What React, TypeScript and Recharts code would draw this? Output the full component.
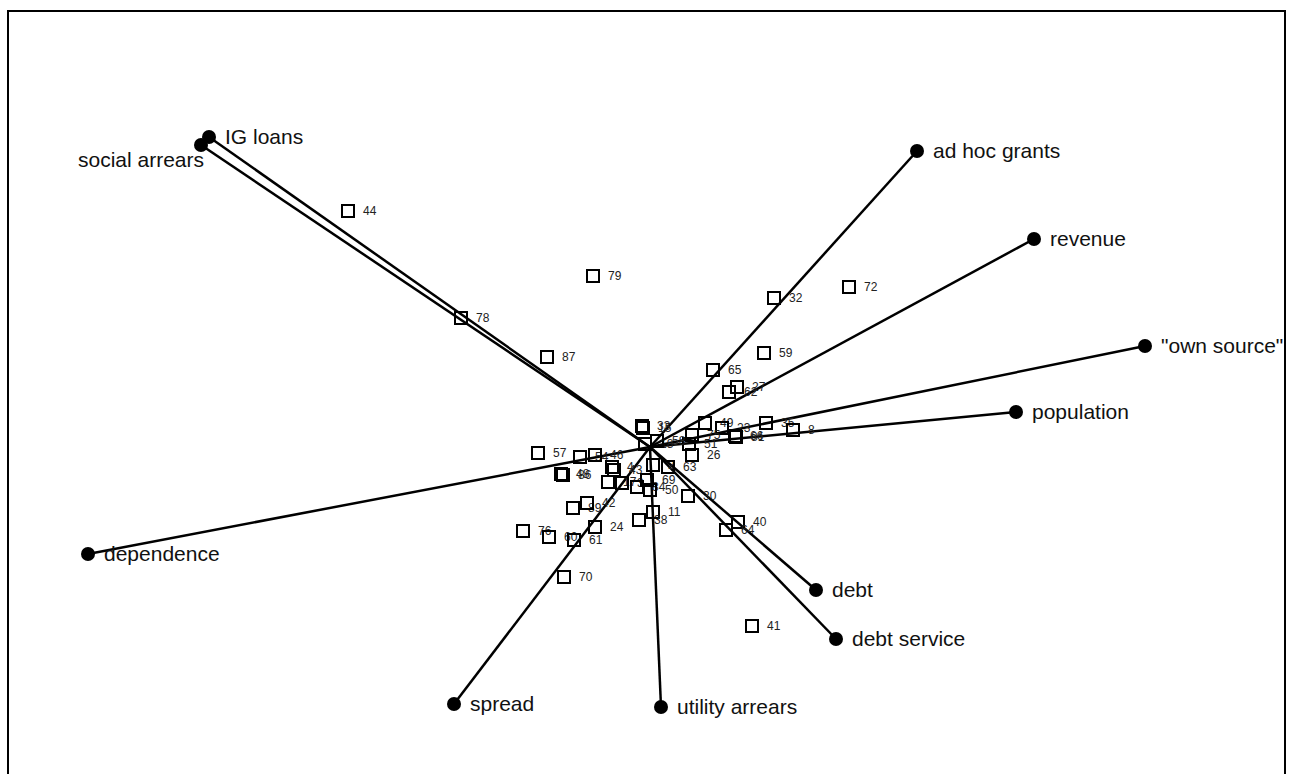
import { ReferenceLine, Scatter, ScatterChart, XAxis, YAxis } from "recharts";

// variable loadings (arrow tips)
const varNames = [
  "IG loans",
  "social arrears",
  "ad hoc grants",
  "revenue",
  "\"own source\"",
  "population",
  "dependence",
  "debt",
  "debt service",
  "spread",
  "utility arrears",
];
const varX = [-4.41, -4.49, 2.67, 3.84, 4.95, 3.66, -5.62, 1.66, 1.86, -1.96, 0.11];
const varY = [3.1, 3.02, 2.96, 2.08, 1.01, 0.35, -1.07, -1.43, -1.92, -2.57, -2.6];

// observation scores
const obsLabels = [
  "44", "79", "78", "87", "32", "72", "59", "65", "27", "62",
  "49", "23", "66", "81", "35", "8", "75", "51", "26", "33",
  "15", "18", "58", "57", "54", "46", "48", "86", "4", "43",
  "17", "3", "84", "69", "50", "2", "63", "30", "89", "42",
  "11", "38", "24", "76", "60", "61", "70", "40", "64", "41",
];
const obsX = [
  -3.02, -0.57, -1.89, -1.03, 1.24, 1.99, 1.14, 0.63, 0.87, 0.79,
  0.55, 0.72, 0.85, 0.86, 1.16, 1.43, 0.42, 0.39, 0.42, -0.08,
  -0.07, -0.05, 0.07, -1.12, -0.7, -0.55, -0.89, -0.87, -0.38, -0.36,
  -0.42, -0.28, -0.13, -0.03, 0.0, 0.03, 0.18, 0.38, -0.77, -0.63,
  0.03, -0.11, -0.55, -1.27, -1.01, -0.76, -0.86, 0.88, 0.76, 1.02,
];
const obsY = [
  2.36, 1.71, 1.29, 0.9, 1.49, 1.6, 0.94, 0.77, 0.6, 0.55,
  0.24, 0.19, 0.11, 0.1, 0.24, 0.17, 0.12, 0.03, -0.08, 0.21,
  0.19, 0.03, 0.06, -0.06, -0.1, -0.08, -0.27, -0.28, -0.2, -0.23,
  -0.35, -0.36, -0.4, -0.33, -0.43, -0.18, -0.2, -0.49, -0.61, -0.56,
  -0.65, -0.73, -0.8, -0.84, -0.9, -0.93, -1.3, -0.75, -0.83, -1.79,
];

const vars = varNames.map((name, i) => ({ name, x: varX[i], y: varY[i] }));
const obs = obsLabels.map((label, i) => ({ label, x: obsX[i], y: obsY[i] }));

const FONT = "'Liberation Sans', Arial, sans-serif";

const ObsShape = (props: any) => {
  const { cx, cy, payload } = props;
  return (
    <g>
      <rect x={cx - 6} y={cy - 6} width={12} height={12} fill="none" stroke="#000" strokeWidth={2} />
      <text x={cx + 15} y={cy} dy="0.35em" fontSize={12} fontFamily={FONT} fill="#222">
        {payload.label}
      </text>
    </g>
  );
};

const VarShape = (props: any) => {
  const { cx, cy, payload } = props;
  const left = payload.name === "social arrears";
  return (
    <g>
      <circle cx={cx} cy={cy} r={7} fill="#000" />
      <text
        x={left ? cx + 3 : cx + 16}
        y={left ? cy + 15 : cy}
        dy="0.35em"
        fontSize={21}
        fontFamily={FONT}
        fill="#111"
        textAnchor={left ? "end" : "start"}
      >
        {payload.name}
      </text>
    </g>
  );
};

export default function App() {
  return (
    <div
      style={{
        position: "absolute",
        left: 7,
        top: 10,
        width: 1275,
        height: 762,
        borderTop: "2px solid #000",
        borderLeft: "2px solid #000",
        borderRight: "2px solid #000",
        background: "#fff",
      }}
    >
      <ScatterChart width={1275} height={762} margin={{ top: 0, right: 0, bottom: 0, left: 0 }}>
        <XAxis type="number" dataKey="x" hide domain={[-6.41, 6.34]} allowDataOverflow />
        <YAxis type="number" dataKey="y" hide domain={[-3.27, 4.35]} allowDataOverflow />
        <Scatter data={obs} shape={ObsShape} isAnimationActive={false} />
        {vars.map((v) => (
          <ReferenceLine
            key={v.name}
            segment={[
              { x: 0, y: 0 },
              { x: v.x, y: v.y },
            ]}
            stroke="#000"
            strokeWidth={2.5}
          />
        ))}
        <Scatter data={vars} shape={VarShape} isAnimationActive={false} />
      </ScatterChart>
    </div>
  );
}
